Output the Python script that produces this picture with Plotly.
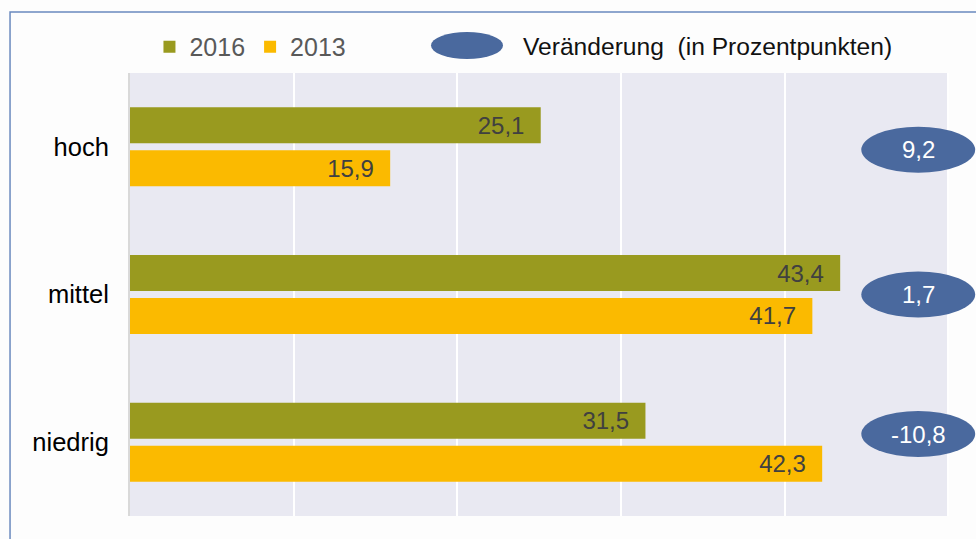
import plotly.graph_objects as go

# ---- data ----
kategorien = ["hoch", "mittel", "niedrig"]
werte_2016 = [25.1, 43.4, 31.5]
werte_2013 = [15.9, 41.7, 42.3]
veraenderung = [9.2, 1.7, -10.8]
serien_namen = ["2016", "2013"]
legende_veraenderung = "Veränderung\u00a0 (in Prozentpunkten)"

# ---- style / positions ----
FONT = "Liberation Sans, Arial, sans-serif"
C2016 = "#999A1F"
C2013 = "#FBBA00"
CELL = "#4A699E"
BG = "#E9E9F2"
X_MAX_GRID = 50
X_RANGE = [0, 51.7]
ELL_X = 48.17
ELL_HALF_W = 3.48
ELL_HALF_H = 0.156
ELL_Y_SHIFT = [0.02, 0.0, -0.055]

fig = go.Figure()
for name, vals, col in [(serien_namen[0], werte_2016, C2016), (serien_namen[1], werte_2013, C2013)]:
    fig.add_trace(go.Bar(
        y=kategorien, x=vals, name=name, orientation="h",
        marker=dict(color=col, line=dict(width=0)),
        texttemplate="%{x:.1f}\u00a0\u00a0", textposition="inside", insidetextanchor="end",
        textfont=dict(color="#404040", size=24, family=FONT),
        hoverinfo="skip",
    ))

shapes = [
    # lavender plot background only up to x=50
    dict(type="rect", xref="x", yref="paper", x0=0, x1=X_MAX_GRID, y0=0, y1=1,
         fillcolor=BG, line=dict(width=0), layer="below"),
    # chart frame
    dict(type="rect", xref="paper", yref="paper", x0=-0.1418, x1=1.2, y0=-0.3, y1=1.1377,
         line=dict(color="#6A89BE", width=1.5), fillcolor="rgba(0,0,0,0)", layer="above"),
    # legend ellipse
    dict(type="circle", xref="paper", yref="paper", x0=0.3558, x1=0.4409, y0=1.0316, y1=1.0926,
         fillcolor=CELL, line=dict(width=0)),
]
annotations = [
    dict(xref="paper", yref="paper", x=0.4622, y=1.0587, xanchor="left", yanchor="middle",
         text=legende_veraenderung, showarrow=False, font=dict(size=24.6, color="#111111", family=FONT)),
]
for i, v in enumerate(veraenderung):
    yc = i + ELL_Y_SHIFT[i]
    shapes.append(dict(type="circle", xref="x", yref="y",
                       x0=ELL_X - ELL_HALF_W, x1=ELL_X + ELL_HALF_W,
                       y0=yc - ELL_HALF_H, y1=yc + ELL_HALF_H,
                       fillcolor=CELL, line=dict(width=0), layer="above"))
    annotations.append(dict(xref="x", yref="y", x=ELL_X, y=yc, showarrow=False,
                            text=f"{v:.1f}".replace(".", ","),
                            font=dict(size=24, color="white", family=FONT)))

fig.update_layout(
    width=976, height=539,
    margin=dict(l=130, r=0, t=73, b=23),
    paper_bgcolor="#FDFDFD", plot_bgcolor="rgba(0,0,0,0)",
    barmode="group", bargap=0.418, bargroupgap=0.163,
    separators=",.",
    font=dict(family=FONT, size=24, color="#000000"),
    showlegend=True,
    legend=dict(orientation="h", x=0.023, xanchor="left", y=1.0587, yanchor="middle",
                font=dict(size=25, color="#595959", family=FONT), bgcolor="rgba(0,0,0,0)",
                traceorder="normal"),
    shapes=shapes, annotations=annotations,
    xaxis=dict(range=X_RANGE, dtick=10, tick0=0, showgrid=True, gridcolor="white", gridwidth=1.5,
               zeroline=False, showticklabels=False, showline=False, fixedrange=True),
    yaxis=dict(autorange="reversed", showgrid=False, showline=True, linecolor="#D9D9D9", linewidth=2,
               ticks="", ticklabelstandoff=14, tickfont=dict(size=25.5, color="#000000", family=FONT),
               fixedrange=True),
)

fig.write_html("out.html", config={"displayModeBar": False},
               post_script="document.body.style.margin='0px';")
